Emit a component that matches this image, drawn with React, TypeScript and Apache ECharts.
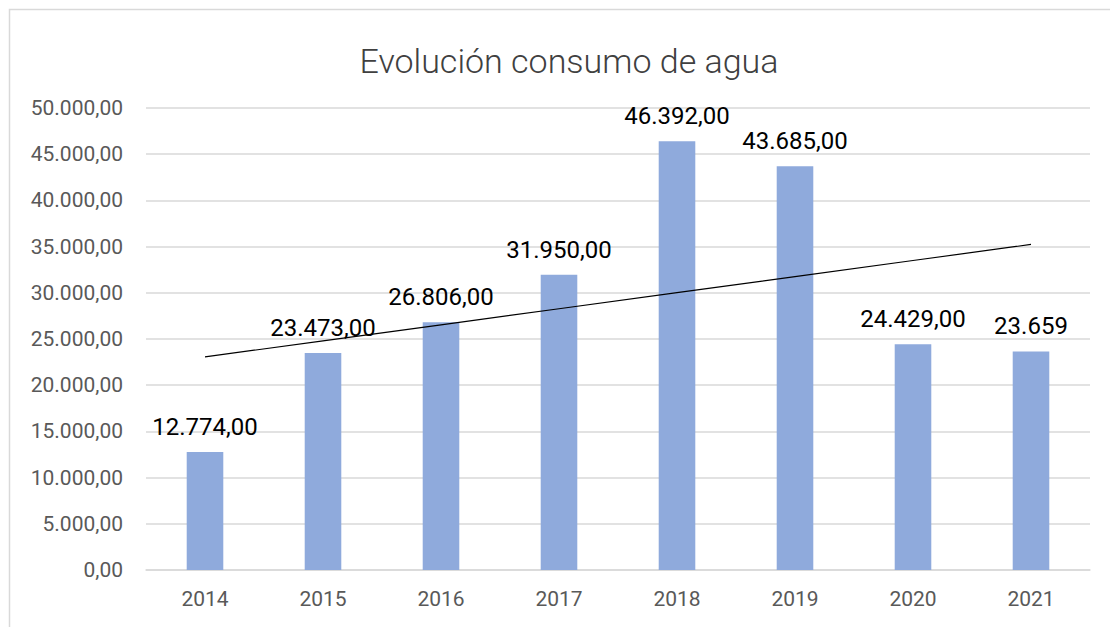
import React, { useEffect, useRef } from "react";
import * as echarts from "echarts";

const years = ["2014", "2015", "2016", "2017", "2018", "2019", "2020", "2021"];
const consumo = [12774, 23473, 26806, 31950, 46392, 43685, 24429, 23659];
const showDecimals = [true, true, true, true, true, true, true, false];
const yMin = 0;
const yMax = 50000;
const yStep = 5000;

function fmt(v: number, dec: boolean): string {
  const int = Math.round(v)
    .toString()
    .replace(/\B(?=(\d{3})+(?!\d))/g, ".");
  return dec ? int + ",00" : int;
}

// linear trend line (least squares) over the series
function trend(vals: number[]): number[] {
  const n = vals.length;
  const xs = vals.map((_, i) => i + 1);
  const mx = xs.reduce((a, b) => a + b, 0) / n;
  const my = vals.reduce((a, b) => a + b, 0) / n;
  let num = 0;
  let den = 0;
  for (let i = 0; i < n; i++) {
    num += (xs[i] - mx) * (vals[i] - my);
    den += (xs[i] - mx) * (xs[i] - mx);
  }
  const b = num / den;
  const a = my - b * mx;
  return xs.map((x) => a + b * x);
}

export default function App() {
  const ref = useRef<HTMLDivElement>(null);
  useEffect(() => {
    if (!ref.current) return;
    const chart = echarts.init(ref.current, undefined, { renderer: "svg" });
    chart.setOption({
      animation: false,
      backgroundColor: "#ffffff",
      title: {
        text: "Evolución consumo de agua",
        left: 564,
        textAlign: "center",
        top: 39,
        textStyle: {
          fontFamily: "Roboto",
          fontWeight: 300,
          fontSize: 34,
          color: "#404040",
        },
      },
      graphic: [
        {
          type: "rect",
          shape: { x: 9.5, y: 9.5, width: 1300, height: 800 },
          style: { fill: "none", stroke: "#d9d9d9", lineWidth: 1.5 },
          silent: true,
        },
      ],
      grid: { left: 146, right: 20, top: 108, bottom: 57 },
      xAxis: {
        type: "category",
        data: years,
        axisLine: { lineStyle: { color: "#d9d9d9", width: 1.5 } },
        axisTick: { show: false },
        axisLabel: {
          color: "#595959",
          fontFamily: "Roboto",
          fontSize: 21,
          margin: 18,
        },
      },
      yAxis: {
        type: "value",
        min: yMin,
        max: yMax,
        interval: yStep,
        axisLine: { show: false },
        axisTick: { show: false },
        splitLine: { lineStyle: { color: "#d9d9d9", width: 1.5 } },
        axisLabel: {
          color: "#595959",
          fontFamily: "Roboto",
          fontSize: 21,
          margin: 23,
          formatter: (v: number) => fmt(v, true),
        },
      },
      series: [
        {
          type: "bar",
          data: consumo,
          barWidth: "31%",
          itemStyle: { color: "#8faadc" },
          label: {
            show: true,
            position: "top",
            distance: 13,
            color: "#000000",
            fontFamily: "Roboto",
            fontSize: 24,
            formatter: (p: any) => fmt(p.value, showDecimals[p.dataIndex]),
          },
        },
        {
          type: "line",
          data: trend(consumo),
          symbol: "none",
          lineStyle: { color: "#000000", width: 1.2 },
          z: 5,
        },
      ],
    });
    return () => chart.dispose();
  }, []);
  return (
    <div
      ref={ref}
      style={{ position: "absolute", left: 0, top: 0, width: 1110, height: 627 }}
    />
  );
}
